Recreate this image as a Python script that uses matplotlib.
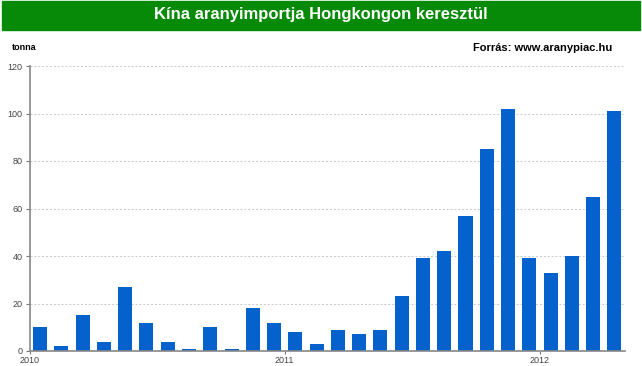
import numpy as np
import matplotlib.pyplot as plt
from matplotlib.patches import Rectangle

plt.rcParams['font.family'] = ['Liberation Sans', 'DejaVu Sans']

# havi adatok 2010 jan - 2012 apr (tonna)
values = [10, 2, 15, 4, 27, 12, 4, 1, 10, 1, 18, 12,
          8, 3, 9, 7, 9, 23, 39, 42, 57, 85, 102, 39,
          33, 40, 65, 101]
years = ['2010', '2011', '2012']
year_pos = [0, 12, 24]
yticks = [0, 20, 40, 60, 80, 100, 120]

fig = plt.figure(figsize=(6.42, 3.66), dpi=100)

# zöld címsáv
fig.patches.append(Rectangle((2 / 642, 1 - 30 / 366), 638 / 642, 29 / 366,
                             transform=fig.transFigure, color='#078A07', zorder=0))
fig.text(0.5, 1 - 15 / 366, 'Kína aranyimportja Hongkongon keresztül',
         ha='center', va='center', color='white', fontsize=12, fontweight='bold')

ax = fig.add_axes([29.5 / 642, 15 / 366, (625 - 29.5) / 642, (351 - 66) / 366])
x = np.arange(len(values))
ax.bar(x + 0.5, values, width=0.66, color='#0561CC', zorder=2)

ax.set_xlim(0, len(values))
ax.set_ylim(0, 120)
ax.set_yticks(yticks)
ax.set_yticklabels([str(t) for t in yticks], fontsize=6.5, color='#444444')
ax.yaxis.grid(True, linestyle=(0, (2, 2)), color='#C8C8C8', linewidth=0.7, zorder=0)
ax.tick_params(axis='y', length=3, width=0.8, color='#777777', pad=2)

ax.set_xticks(year_pos)
ax.set_xticklabels(years, fontsize=6.5, color='#444444')
ax.tick_params(axis='x', length=2, width=0.8, color='#777777', pad=1.5)

for s in ['top', 'right']:
    ax.spines[s].set_visible(False)
for s in ['left', 'bottom']:
    ax.spines[s].set_color('#888888')
    ax.spines[s].set_linewidth(1.2)

fig.text(12 / 642, 1 - 47 / 366, 'tonna', fontsize=6.5, fontweight='bold',
         ha='left', va='center')
fig.text(612 / 642, 1 - 48 / 366, 'Forrás: www.aranypiac.hu', fontsize=8,
         fontweight='bold', ha='right', va='center')

fig.savefig('out.png', dpi=100)
